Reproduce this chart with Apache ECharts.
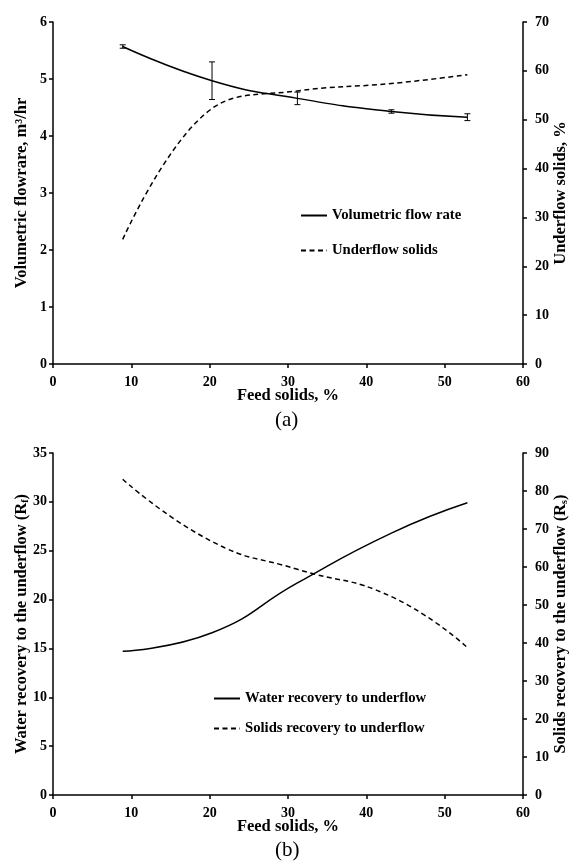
<!DOCTYPE html>
<html>
<head>
<meta charset="utf-8">
<script src="https://cdn.jsdelivr.net/npm/echarts@6/dist/echarts.min.js"></script>
<style>
html,body{margin:0;padding:0;background:#fff;}
#chart{width:569px;height:864px;}
</style>
</head>
<body>
<div id="chart"></div>
<script>
// ---- data ----
const xFeed = [8.9, 20.3, 31.2, 43.2, 52.9];            // Feed solids, %
const flowRate = [5.57, 4.97, 4.66, 4.43, 4.33];        // m3/hr
const flowErr = [0.03, 0.33, 0.11, 0.03, 0.06];         // +/- error
const underflowSolids = [25.5, 52.3, 55.9, 57.4, 59.2]; // %
const waterRecovery = [14.7, 16.6, 21.7, 26.8, 29.9];   // Rf
const solidsRecovery = [83.1, 66.7, 59.4, 52.2, 38.8];  // Rs
const xTicks = [0, 10, 20, 30, 40, 50, 60];

const FONT = '"Liberation Serif", "Times New Roman", serif';
const pairs = (xs, ys) => xs.map((x, i) => [x, ys[i]]);

const axisLineStyle = { show: true, onZero: false, lineStyle: { color: '#000', width: 1.5 } };
const tickStyle = { show: true, length: 4, lineStyle: { color: '#000', width: 1.5 } };
const labelStyle = (margin) => ({ color: '#000', fontFamily: FONT, fontWeight: 'bold', fontSize: 14, margin: margin });
const nameStyle = { color: '#000', fontFamily: FONT, fontWeight: 'bold', fontSize: 16.5,
  rich: { sub: { fontFamily: FONT, fontWeight: 'bold', fontSize: 10, verticalAlign: 'bottom', padding: [6, 0, 0, 0] } } };

function xAxisCfg(gridIndex) {
  return {
    type: 'value', gridIndex, min: xTicks[0], max: xTicks[xTicks.length - 1], interval: 10,
    name: 'Feed solids, %', nameLocation: 'middle', nameGap: 23, nameMoveOverlap: false, nameTextStyle: nameStyle,
    axisLine: axisLineStyle, axisTick: tickStyle, axisLabel: labelStyle(11), splitLine: { show: false }
  };
}
function yAxisCfg(gridIndex, pos, max, interval, name, gap) {
  return {
    type: 'value', gridIndex, position: pos, min: 0, max, interval,
    name, nameLocation: 'middle', nameGap: gap, nameMoveOverlap: false, nameTextStyle: nameStyle,
    axisLine: axisLineStyle, axisTick: tickStyle,
    axisLabel: labelStyle(pos === 'left' ? 6 : 12), splitLine: { show: false }
  };
}

const solid = { color: '#000', width: 1.5, type: 'solid' };
const dashed = { color: '#000', width: 1.5, type: [5, 3.5] };
const legendText = { color: '#000', fontFamily: FONT, fontWeight: 'bold', fontSize: 14.7 };

const option = {
  backgroundColor: '#fff',
  animation: false,
  grid: [
    { left: 53, right: 46, top: 22, height: 342, containLabel: false, outerBoundsMode: 'none' },
    { left: 53, right: 46, top: 453, height: 342, containLabel: false, outerBoundsMode: 'none' }
  ],
  xAxis: [xAxisCfg(0), xAxisCfg(1)],
  yAxis: [
    yAxisCfg(0, 'left', 6, 1, 'Volumetric flowrare, m³/hr', 23),
    yAxisCfg(0, 'right', 70, 10, 'Underflow solids, %', 29),
    yAxisCfg(1, 'left', 35, 5, 'Water recovery to the underflow (R{sub|f})', 23),
    yAxisCfg(1, 'right', 90, 10, 'Solids recovery to the underflow (R{sub|s})', 29)
  ],
  legend: [
    { orient: 'vertical', left: 295, top: 203, itemWidth: 26, itemHeight: 10, itemGap: 20,
      itemStyle: { opacity: 0 },
      data: ['Volumetric flow rate', 'Underflow solids'], textStyle: legendText },
    { orient: 'vertical', left: 208, top: 686, itemWidth: 26, itemHeight: 10, itemGap: 15,
      itemStyle: { opacity: 0 },
      data: ['Water recovery to underflow', 'Solids recovery to underflow'], textStyle: legendText }
  ],
  series: [
    { name: 'Volumetric flow rate', type: 'line', xAxisIndex: 0, yAxisIndex: 0,
      data: pairs(xFeed, flowRate), smooth: 0.5, symbol: 'none', lineStyle: solid, itemStyle: { color: '#000' } },
    { name: 'flow error', type: 'custom', xAxisIndex: 0, yAxisIndex: 0,
      data: xFeed.map((x, i) => [x, flowRate[i], flowErr[i]]),
      encode: { x: 0, y: 1 }, z: 3,
      renderItem: function (params, api) {
        const x = api.value(0), y = api.value(1), e = api.value(2);
        const t = api.coord([x, y + e]);
        const b = api.coord([x, y - e]);
        const hw = 3;
        const st = { stroke: '#000', lineWidth: 1 };
        return { type: 'group', children: [
          { type: 'line', shape: { x1: t[0], y1: t[1], x2: b[0], y2: b[1] }, style: st },
          { type: 'line', shape: { x1: t[0] - hw, y1: t[1], x2: t[0] + hw, y2: t[1] }, style: st },
          { type: 'line', shape: { x1: b[0] - hw, y1: b[1], x2: b[0] + hw, y2: b[1] }, style: st }
        ] };
      } },
    { name: 'Underflow solids', type: 'line', xAxisIndex: 0, yAxisIndex: 1,
      data: pairs(xFeed, underflowSolids), smooth: 0.4, symbol: 'none', lineStyle: dashed, itemStyle: { color: '#000' } },
    { name: 'Water recovery to underflow', type: 'line', xAxisIndex: 1, yAxisIndex: 2,
      data: pairs(xFeed, waterRecovery), smooth: 0.5, symbol: 'none', lineStyle: solid, itemStyle: { color: '#000' } },
    { name: 'Solids recovery to underflow', type: 'line', xAxisIndex: 1, yAxisIndex: 3,
      data: pairs(xFeed, solidsRecovery), smooth: 0.5, symbol: 'none', lineStyle: dashed, itemStyle: { color: '#000' } }
  ],
  graphic: [
    { type: 'text', left: 275, top: 410, style: { text: '(a)', fill: '#000', font: '21px ' + FONT } },
    { type: 'text', left: 275, top: 840, style: { text: '(b)', fill: '#000', font: '21px ' + FONT } }
  ]
};

const chart = echarts.init(document.getElementById('chart'), null, { renderer: 'canvas' });
chart.setOption(option);
</script>
</body>
</html>
